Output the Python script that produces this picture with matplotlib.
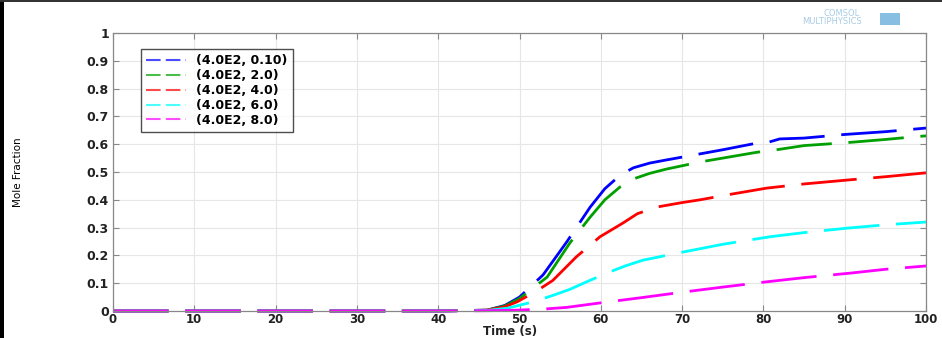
import matplotlib
matplotlib.use("Agg")
import matplotlib.pyplot as plt
from matplotlib.patches import Rectangle

# Data
t_blue = [0, 10, 20, 30, 40, 46, 48.2, 50, 52.9, 55.8, 58.7, 60.5, 62.4, 64, 66, 68, 70.1, 75, 79.2, 80.5, 82.0, 85, 90, 95, 100]
v_blue = [0, 0, 0, 0, 0, 0.003, 0.02, 0.05, 0.13, 0.248, 0.374, 0.44, 0.489, 0.515, 0.532, 0.543, 0.554, 0.58, 0.604, 0.606, 0.619, 0.622, 0.635, 0.645, 0.658]

t_green = [0, 10, 20, 30, 40, 46, 48.2, 50, 53.4, 56.2, 58.7, 60.5, 62.4, 64, 66, 68, 72.2, 75, 79.2, 81.4, 85, 90, 95, 98.3, 100]
v_green = [0, 0, 0, 0, 0, 0.003, 0.018, 0.045, 0.122, 0.245, 0.338, 0.4, 0.447, 0.475, 0.495, 0.51, 0.536, 0.55, 0.571, 0.579, 0.595, 0.605, 0.617, 0.626, 0.63]

t_red = [0, 10, 20, 30, 40, 46, 48.2, 49.7, 52, 54.1, 57, 59.9, 62.7, 64.5, 66.9, 70, 72.2, 76, 80.4, 85, 90.3, 95, 100]
v_red = [0, 0, 0, 0, 0, 0.003, 0.015, 0.033, 0.07, 0.11, 0.195, 0.267, 0.316, 0.35, 0.374, 0.39, 0.4, 0.42, 0.442, 0.457, 0.471, 0.483, 0.497]

t_cyan = [0, 10, 20, 30, 40, 46, 48.5, 51.7, 54, 56.2, 58.5, 60.7, 63, 65.2, 70.1, 75, 80.8, 85, 90.3, 95, 100]
v_cyan = [0, 0, 0, 0, 0, 0.002, 0.01, 0.033, 0.055, 0.078, 0.108, 0.136, 0.162, 0.183, 0.212, 0.24, 0.267, 0.282, 0.298, 0.31, 0.32]

t_mag = [0, 10, 20, 30, 40, 46, 49.7, 53, 55.8, 59.9, 65, 70.1, 75, 80.4, 85, 90.6, 95, 100]
v_mag = [0, 0, 0, 0, 0, 0.001, 0.003, 0.007, 0.013, 0.029, 0.048, 0.068, 0.086, 0.105, 0.12, 0.136, 0.15, 0.162]

labels = ["(4.0E2, 0.10)", "(4.0E2, 2.0)", "(4.0E2, 4.0)", "(4.0E2, 6.0)", "(4.0E2, 8.0)"]
colors = ["#0000ff", "#00a000", "#ff0000", "#00ffff", "#ff00ff"]

x_ticks = [0, 10, 20, 30, 40, 50, 60, 70, 80, 90, 100]
y_ticks = [0, 0.1, 0.2, 0.3, 0.4, 0.5, 0.6, 0.7, 0.8, 0.9, 1]
y_ticklabels = ["0", "0.1", "0.2", "0.3", "0.4", "0.5", "0.6", "0.7", "0.8", "0.9", "1"]

fig = plt.figure(figsize=(9.42, 3.38), dpi=100)
ax = fig.add_axes([113/942, 1 - 311/338, (926 - 113)/942, (311 - 33)/338])

series = [(t_blue, v_blue), (t_green, v_green), (t_red, v_red), (t_cyan, v_cyan), (t_mag, v_mag)]
for (t, v), c, lab in zip(series, colors, labels):
    ax.plot(t, v, color=c, lw=2.0, linestyle=(0, (20, 6)), label=lab, clip_on=False)

ax.set_xlim(0, 100)
ax.set_ylim(0, 1)
ax.set_xticks(x_ticks)
ax.set_yticks(y_ticks)
ax.set_yticklabels(y_ticklabels)
ax.grid(True, color="#e6e6e6", lw=0.8)
ax.tick_params(direction="in", top=True, right=True, length=4, color="#888888",
               labelsize=9, pad=3)
ax.tick_params(axis="x", pad=1.5, labelsize=8.5)
for lbl in ax.get_xticklabels() + ax.get_yticklabels():
    lbl.set_fontweight("bold")
    lbl.set_color("#222222")
for s in ax.spines.values():
    s.set_color("#888888")
    s.set_linewidth(0.9)

fig.text(510/942, 1 - 331.5/338, "Time (s)", fontsize=8.5, fontweight="bold",
         color="#222222", ha="center", va="center")
fig.text(18/942, 1 - 172/338, "Mole Fraction", rotation=90, fontsize=7.5,
         family=["Liberation Sans Narrow", "DejaVu Sans"], ha="center", va="center")

leg = ax.legend(loc="upper left", bbox_to_anchor=((135 - 113)/813, 1 - (43 - 33)/278),
                fontsize=9, frameon=True, fancybox=False, handlelength=3.2,
                borderpad=0.4, labelspacing=0.15, handletextpad=0.8)
leg.get_frame().set_edgecolor("#222222")
leg.get_frame().set_linewidth(1.0)
for h in leg.get_lines():
    h.set_linestyle((0, (7, 2.5)))
    h.set_linewidth(1.5)
    h.set_alpha(0.7)
for txt in leg.get_texts():
    txt.set_fontweight("bold")

# COMSOL watermark
fig.text(842/942, 1 - 13/338, "COMSOL", fontsize=6, color="#a8cce6", ha="center", va="center")
fig.text(832/942, 1 - 21/338, "MULTIPHYSICS", fontsize=6, color="#a8cce6", ha="center", va="center")
fig.patches.append(Rectangle((880/942, 1 - 25/338), 20/942, 12/338, transform=fig.transFigure,
                             facecolor="#6aaedb", edgecolor="none", alpha=0.8))

# dark frame strips
fig.patches.append(Rectangle((0, 0), 4/942, 1, transform=fig.transFigure, facecolor="#000000", edgecolor="none"))
fig.patches.append(Rectangle((0, 1 - 1.5/338), 1, 1.5/338, transform=fig.transFigure, facecolor="#333333", edgecolor="none"))

fig.savefig("out.png", dpi=100)
